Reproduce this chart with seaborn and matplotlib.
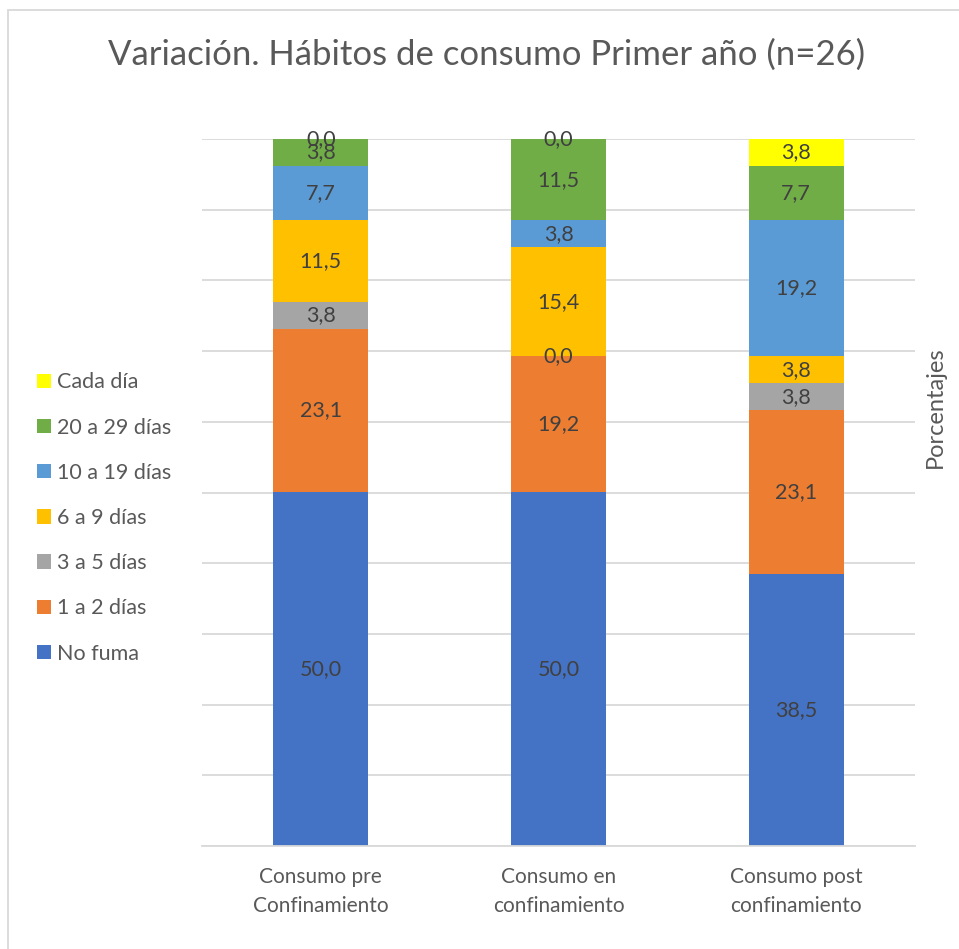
import matplotlib
matplotlib.use("Agg")
import matplotlib.pyplot as plt
from matplotlib.patches import Patch, Rectangle
import seaborn as sns
import pandas as pd
import numpy as np

categories = ["Consumo pre\nConfinamiento", "Consumo en\nconfinamiento", "Consumo post\nconfinamiento"]
series_names = ["No fuma", "1 a 2 días", "3 a 5 días", "6 a 9 días", "10 a 19 días", "20 a 29 días", "Cada día"]
no_fuma = [50.0, 50.0, 38.5]
d1_2 = [23.1, 19.2, 23.1]
d3_5 = [3.8, 0.0, 3.8]
d6_9 = [11.5, 15.4, 3.8]
d10_19 = [7.7, 3.8, 19.2]
d20_29 = [3.8, 11.5, 7.7]
cada_dia = [0.0, 0.0, 3.8]
colors = ["#4472C4", "#ED7D31", "#A5A5A5", "#FFC000", "#5B9BD5", "#70AD47", "#FFFF00"]

sns.set_theme(style="white")
plt.rcParams["font.family"] = ["Lato", "DejaVu Sans"]

values = np.array([no_fuma, d1_2, d3_5, d6_9, d10_19, d20_29, cada_dia])
totals = values.sum(axis=0)
pct = values / totals * 100
cum = np.cumsum(pct, axis=0)

fig = plt.figure(figsize=(9.59, 9.49), dpi=100)
W, H = 959, 949
ax = fig.add_axes([202 / W, 1 - 846 / H, (915 - 202) / W, (846 - 139) / H])

# draw cumulative bars from top layer down so lower layers overlay
for i in range(len(series_names) - 1, -1, -1):
    df = pd.DataFrame({"cat": categories, "val": cum[i]})
    sns.barplot(data=df, x="cat", y="val", color=colors[i], width=0.4,
                saturation=1, ax=ax, linewidth=0, order=categories)

# labels
for i in range(len(series_names)):
    for j in range(len(categories)):
        center = cum[i, j] - pct[i, j] / 2
        ax.text(j, center, f"{values[i, j]:.1f}".replace(".", ","),
                ha="center", va="center", fontsize=15.5, color="#404040")

ax.set_ylim(0, 100)
ax.set_xlim(-0.5, 2.5)
ax.set_yticks(np.arange(0, 101, 10))
ax.set_yticklabels([])
ax.tick_params(axis="y", length=0)
ax.tick_params(axis="x", length=0, pad=15, labelsize=15, labelcolor="#595959")
for t in ax.get_xticklabels():
    t.set_linespacing(1.6)
ax.yaxis.grid(True, color="#D9D9D9", linewidth=1.3)
ax.set_axisbelow(True)
for s in ["top", "right", "left"]:
    ax.spines[s].set_visible(False)
ax.spines["bottom"].set_color("#D9D9D9")
ax.spines["bottom"].set_linewidth(1.3)
ax.set_xlabel("")
ax.set_ylabel("")

fig.text(487 / W, 1 - 55 / H, "Variación. Hábitos de consumo Primer año (n=26)",
         ha="center", va="center", fontsize=25, color="#595959")
fig.text(935 / W, 1 - 407 / H, "Porcentajes", rotation=90, ha="center", va="center",
         fontsize=17, color="#595959")

handles = [Patch(facecolor=colors[i], edgecolor="none", label=series_names[i])
           for i in range(len(series_names) - 1, -1, -1)]
leg = fig.legend(handles=handles, loc="upper left", bbox_to_anchor=(18 / W, 1 - 353 / H),
                 frameon=False, fontsize=15.5, handlelength=0.65, handleheight=0.65,
                 handletextpad=0.25, labelspacing=1.17, labelcolor="#595959")

fig.patches.append(Rectangle((8 / W, -0.1), 1.2, 1 - 10 / H + 0.1, transform=fig.transFigure,
                             fill=False, edgecolor="#D9D9D9", linewidth=1.3))

fig.savefig("out.png", dpi=100)
